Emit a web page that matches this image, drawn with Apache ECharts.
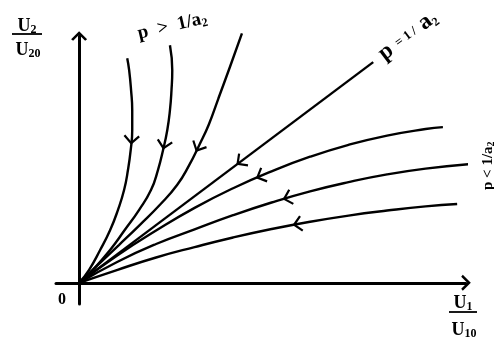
<!DOCTYPE html>
<html>
<head>
<meta charset="utf-8">
<script src="https://cdn.jsdelivr.net/npm/echarts@6/dist/echarts.min.js"></script>
<style>
  html, body { margin: 0; padding: 0; background: #fff; }
  #chart { width: 494px; height: 341px; }
</style>
</head>
<body>
<div id="chart"></div>
<script>
// trajectories U2/U20 vs U1/U10
var curveA = [[0, 0], [0.26, 0.34], [0.55, 0.86], [0.81, 1.38], [1.01, 1.90], [1.17, 2.42], [1.27, 2.94], [1.34, 3.45], [1.38, 3.97], [1.38, 4.49], [1.35, 5.01], [1.30, 5.53], [1.25, 5.84]];
var curveB = [[0, 0], [0.36, 0.34], [0.81, 0.86], [1.19, 1.38], [1.56, 1.90], [1.87, 2.42], [2.05, 2.94], [2.18, 3.45], [2.29, 3.97], [2.36, 4.49], [2.40, 5.01], [2.42, 5.53], [2.36, 6.18]];
var curveC = [[0, 0], [0.49, 0.47], [1.04, 0.99], [1.58, 1.51], [2.10, 2.03], [2.55, 2.55], [2.86, 3.06], [3.12, 3.58], [3.37, 4.12], [3.62, 4.80], [3.92, 5.62], [4.23, 6.49]];
var lineD = [[0, 0], [7.64, 5.74]];
var curveE = [[0, 0], [1, 0.72], [2, 1.36], [3, 1.95], [4, 2.46], [5, 2.90], [6, 3.28], [7, 3.59], [8, 3.83], [9, 4.00], [9.45, 4.05]];
var curveF = [[0, 0], [1, 0.55], [2, 1.01], [3, 1.39], [4, 1.76], [5, 2.09], [6, 2.38], [7, 2.62], [8, 2.82], [9, 2.97], [10.16, 3.09]];
var curveG = [[0, 0], [1, 0.34], [2, 0.66], [3, 0.93], [4, 1.18], [5, 1.40], [6, 1.59], [7, 1.75], [8, 1.88], [9, 1.99], [9.82, 2.05]];

var curves = [curveA, curveB, curveC, lineD, curveE, curveF, curveG];
// where along each curve (fractional point index) the direction arrow sits
var arrowAt = [7.5, 7.25, 6.87, 0.547, 4.7, 5.4, 5.66];

var serif = '"Liberation Serif", "Times New Roman", serif';

var arrowData = curves.map(function (c, k) {
  var t = arrowAt[k];
  var i = Math.floor(t), f = t - i;
  var a = c[i], b = c[i + 1];
  return [a[0] + (b[0] - a[0]) * f, a[1] + (b[1] - a[1]) * f, a[0], a[1], b[0], b[1]];
});

var series = curves.map(function (c, k) {
  return {
    type: 'line',
    data: c,
    symbol: 'none',
    smooth: k === 3 ? false : 0.5,
    clip: false,
    lineStyle: { color: '#000', width: 2.4 },
    z: 3
  };
});

series.push({
  type: 'custom',
  data: arrowData,
  clip: false,
  z: 4,
  renderItem: function (params, api) {
    var p = api.coord([api.value(0), api.value(1)]);
    var a = api.coord([api.value(2), api.value(3)]);
    var b = api.coord([api.value(4), api.value(5)]);
    // direction towards the origin
    var dx = a[0] - b[0], dy = a[1] - b[1];
    var len = Math.sqrt(dx * dx + dy * dy);
    dx /= len; dy /= len;
    var tip = [p[0] + dx * 3, p[1] + dy * 3];
    var ang = 0.78, L = 10.5;
    function arm(s) {
      var c = Math.cos(s * ang), sn = Math.sin(s * ang);
      var rx = dx * c - dy * sn, ry = dx * sn + dy * c;
      return [tip[0] - rx * L, tip[1] - ry * L];
    }
    return {
      type: 'polyline',
      shape: { points: [arm(1), tip, arm(-1)] },
      style: { stroke: '#000', lineWidth: 2.2, fill: null }
    };
  }
});

var chevron = 'path://M0,10 L10,0 L20,10 L17.5,12 L10,4.5 L2.5,12 Z';

function axis(min, max) {
  return {
    type: 'value',
    min: min,
    max: max,
    axisLine: {
      onZero: true,
      symbol: ['none', chevron],
      symbolSize: [16, 12],
      lineStyle: { color: '#000', width: 3 }
    },
    axisTick: { show: false },
    axisLabel: { show: false },
    splitLine: { show: false }
  };
}

function frac(cx, top, num, sub, den, dsub, barW, barDy, denDy) {
  var rich = {
    m: { fontSize: 18, fontWeight: 'bold', fontFamily: serif, lineHeight: 20 },
    s: { fontSize: 12, fontWeight: 'bold', fontFamily: serif, lineHeight: 20, verticalAlign: 'bottom', padding: [6, 0, 0, 0] }
  };
  return {
    type: 'group',
    children: [
      { type: 'text', style: { text: '{m|' + num + '}{s|' + sub + '}', x: cx, y: top, align: 'center', textAlign: 'center', verticalAlign: 'top', textVerticalAlign: 'top', rich: rich, fill: '#000' } },
      { type: 'line', shape: { x1: cx - barW / 2, y1: top + barDy, x2: cx + barW / 2, y2: top + barDy }, style: { stroke: '#000', lineWidth: 1.8 } },
      { type: 'text', style: { text: '{m|' + den + '}{s|' + dsub + '}', x: cx + 1, y: top + denDy, align: 'center', textAlign: 'center', verticalAlign: 'top', textVerticalAlign: 'top', rich: rich, fill: '#000' } }
    ]
  };
}

function slanted(x, y, rot, text, big, small) {
  return {
    type: 'text',
    x: x, y: y, rotation: rot,
    style: {
      text: text, x: 0, y: 0,
      align: 'left', textAlign: 'left', verticalAlign: 'middle', textVerticalAlign: 'middle',
      fill: '#000',
      rich: {
        m: { fontSize: big, fontWeight: 'bold', fontFamily: serif, lineHeight: big + 2 },
        e: { fontSize: small + 1, fontWeight: 'bold', fontFamily: serif, lineHeight: big + 2 },
        s: { fontSize: small, fontWeight: 'bold', fontFamily: serif, lineHeight: big + 2, verticalAlign: 'bottom', padding: [5, 0, 0, 0] }
      }
    }
  };
}

var chart = echarts.init(document.getElementById('chart'));
chart.setOption({
  animation: false,
  backgroundColor: '#fff',
  grid: { left: 56, top: 36, width: 410, height: 268 },
  xAxis: axis(-0.6, 10.05),
  yAxis: axis(-0.55, 6.42),
  series: series,
  graphic: [
    frac(27, 16, 'U', '2', 'U', '20', 30, 18, 24),
    frac(463, 293, 'U', '1', 'U', '10', 28, 19, 27),
    { type: 'text', x: 58, y: 292, style: { text: '0', font: 'bold 16px ' + serif, fill: '#000' } },
    slanted(138, 34, 0.23, '{m|p  >  1/a}{s|2}', 19, 12),
    slanted(381, 56, 0.65, '{m|p}{e|  = 1 /  }{m|a}{s|2}', 23, 12),
    slanted(488, 190, Math.PI / 2, '{m|p < 1/a}{s|2}', 15, 10)
  ]
});
</script>
</body>
</html>
